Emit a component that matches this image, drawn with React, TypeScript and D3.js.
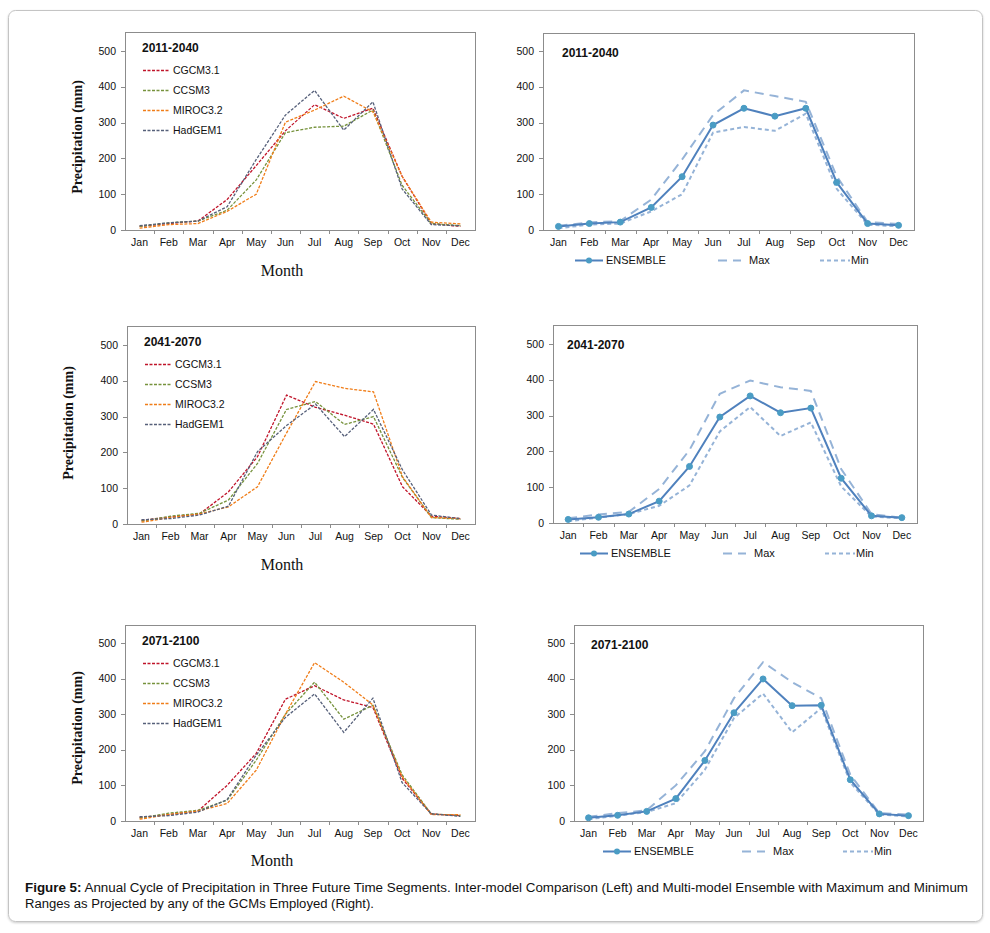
import React from 'react';
import * as d3 from 'd3';

const months = ['Jan', 'Feb', 'Mar', 'Apr', 'May', 'Jun', 'Jul', 'Aug', 'Sep', 'Oct', 'Nov', 'Dec'];
const modelNames = ['CGCM3.1', 'CCSM3', 'MIROC3.2', 'HadGEM1'];
const periods = ['2011-2040', '2041-2070', '2071-2100'];
const yTickValues = [0, 100, 200, 300, 400, 500];

// 2011-2040
const cgcm2011 = [10, 18, 25, 85, 180, 277, 350, 312, 340, 150, 18, 10];
const ccsm2011 = [10, 20, 25, 55, 140, 272, 287, 290, 335, 125, 18, 12];
const miroc2011 = [5, 15, 18, 52, 100, 301, 335, 374, 330, 150, 22, 17];
const hadgem2011 = [12, 20, 25, 65, 197, 321, 390, 279, 358, 115, 15, 12];
const ens2011 = [10, 18, 22, 63, 149, 293, 340, 318, 340, 133, 18, 13];
const max2011 = [12, 21, 25, 85, 197, 321, 390, 374, 358, 150, 22, 17];
const min2011 = [5, 15, 18, 52, 100, 272, 288, 277, 325, 115, 15, 10];

// 2041-2070
const cgcm2041 = [10, 20, 28, 90, 188, 360, 326, 304, 279, 104, 22, 15];
const ccsm2041 = [8, 22, 30, 67, 169, 320, 342, 278, 300, 130, 18, 13];
const miroc2041 = [5, 18, 28, 48, 104, 254, 398, 379, 369, 132, 18, 15];
const hadgem2041 = [12, 15, 25, 50, 202, 275, 335, 244, 320, 151, 25, 15];
const ens2041 = [10, 16, 25, 61, 158, 296, 355, 308, 321, 125, 20, 15];
const max2041 = [13, 24, 31, 95, 204, 361, 398, 379, 369, 151, 25, 15];
const min2041 = [5, 15, 25, 48, 105, 256, 324, 243, 281, 102, 18, 13];

// 2071-2100
const cgcm2071 = [10, 18, 28, 100, 190, 342, 380, 340, 319, 120, 20, 15];
const ccsm2071 = [8, 22, 30, 58, 171, 300, 390, 286, 325, 130, 20, 15];
const miroc2071 = [5, 18, 28, 49, 143, 300, 445, 390, 326, 125, 18, 18];
const hadgem2071 = [12, 15, 25, 60, 185, 291, 357, 249, 345, 108, 20, 13];
const ens2071 = [9, 16, 27, 63, 170, 304, 399, 324, 325, 116, 20, 15];
const max2071 = [12, 22, 30, 100, 196, 345, 446, 390, 345, 130, 22, 18];
const min2071 = [5, 15, 25, 50, 144, 289, 358, 249, 317, 108, 18, 13];

const modelColors = ['#c0142a', '#76923c', '#f07d18', '#56607a'];
const ensColor = '#4f81bd';
const markerColor = '#4a9cc4';
const rangeColor = '#95b3d7';
const SANS = '"Liberation Sans", Arial, sans-serif';
const SERIF = '"Liberation Serif", "Times New Roman", serif';

const modelSets = [
  [cgcm2011, ccsm2011, miroc2011, hadgem2011],
  [cgcm2041, ccsm2041, miroc2041, hadgem2041],
  [cgcm2071, ccsm2071, miroc2071, hadgem2071],
];
const ensSets = [
  { ens: ens2011, max: max2011, min: min2011 },
  { ens: ens2041, max: max2041, min: min2041 },
  { ens: ens2071, max: max2071, min: min2071 },
];

// plot-area geometry for each panel
const leftLayout = [
  { l: 125, r: 475, top: 32, zero: 230, y500: 51, monthX: 282, monthY: 276, precipX: 77, precipY: 137 },
  { l: 127, r: 475, top: 326, zero: 524, y500: 345, monthX: 282, monthY: 570, precipX: 68, precipY: 423 },
  { l: 125, r: 475, top: 625, zero: 821, y500: 643, monthX: 272, monthY: 866, precipX: 77, precipY: 728 },
];
const rightLayout = [
  { l: 543, r: 914, top: 33, zero: 230, y500: 51, titleX: 562, legX: [575, 718, 820] },
  { l: 553, r: 917, top: 325, zero: 523, y500: 344, titleX: 567, legX: [580, 723, 825] },
  { l: 574, r: 923, top: 625, zero: 821, y500: 643, titleX: 591, legX: [603, 742, 843] },
];

type Geo = { l: number; r: number; top: number; zero: number; y500: number };

function Frame({ g, x, y }: { g: Geo; x: d3.ScaleBand<string>; y: d3.ScaleLinear<number, number> }) {
  const bw = x.bandwidth();
  return (
    <g>
      <rect x={g.l + 0.5} y={g.top + 0.5} width={g.r - g.l} height={g.zero - g.top} fill="none" stroke="#8c8c8c" strokeWidth={1} />
      {yTickValues.map((t) => (
        <g key={t}>
          <line x1={g.l - 4} x2={g.l} y1={Math.round(y(t)) + 0.5} y2={Math.round(y(t)) + 0.5} stroke="#8c8c8c" />
          <text x={g.l - 9} y={y(t)} dy="0.35em" textAnchor="end" fontFamily={SANS} fontSize={10.5} fill="#111">
            {t}
          </text>
        </g>
      ))}
      {months.map((m, i) => (
        <g key={m}>
          {i > 0 && (
            <line x1={Math.round(x(m)!) + 0.5} x2={Math.round(x(m)!) + 0.5} y1={g.zero} y2={g.zero + 4} stroke="#8c8c8c" />
          )}
          <text x={x(m)! + bw / 2} y={g.zero + 16} textAnchor="middle" fontFamily={SANS} fontSize={10.5} fill="#111">
            {m}
          </text>
        </g>
      ))}
    </g>
  );
}

function ModelPanel({ idx }: { idx: number }) {
  const g = leftLayout[idx];
  const x = d3.scaleBand<string>().domain(months).range([g.l, g.r]);
  const y = d3.scaleLinear().domain([0, 500]).range([g.zero, g.y500]);
  const line = d3
    .line<number>()
    .x((_, i) => x(months[i])! + x.bandwidth() / 2)
    .y((d) => y(d));
  return (
    <g>
      <Frame g={g} x={x} y={y} />
      {modelSets[idx].map((s, k) => (
        <path key={k} d={line(s)!} fill="none" stroke={modelColors[k]} strokeWidth={1.3} strokeDasharray="3,1.5" />
      ))}
      <text x={g.l + 17} y={g.top + 15.5} dy="0.35em" fontFamily={SANS} fontWeight="bold" fontSize={12} fill="#111">
        {periods[idx]}
      </text>
      {modelNames.map((name, k) => {
        const ly = g.top + 38.5 + 20 * k;
        return (
          <g key={name}>
            <line x1={g.l + 18} x2={g.l + 45} y1={ly} y2={ly} stroke={modelColors[k]} strokeWidth={1.3} strokeDasharray="3,1.5" />
            <text x={g.l + 48} y={ly} dy="0.35em" fontFamily={SANS} fontSize={10.5} fill="#111">
              {name}
            </text>
          </g>
        );
      })}
      <text x={g.monthX} y={g.monthY} textAnchor="middle" fontFamily={SERIF} fontSize={16} fill="#111">
        Month
      </text>
      <text
        transform={`translate(${g.precipX},${g.precipY}) rotate(-90)`}
        textAnchor="middle"
        dy="0.35em"
        fontFamily={SERIF}
        fontWeight="bold"
        fontSize={14}
        fill="#111"
      >
        Precipitation (mm)
      </text>
    </g>
  );
}

function EnsemblePanel({ idx }: { idx: number }) {
  const g = rightLayout[idx];
  const set = ensSets[idx];
  const x = d3.scaleBand<string>().domain(months).range([g.l, g.r]);
  const y = d3.scaleLinear().domain([0, 500]).range([g.zero, g.y500]);
  const cx = (i: number) => x(months[i])! + x.bandwidth() / 2;
  const line = d3
    .line<number>()
    .x((_, i) => cx(i))
    .y((d) => y(d));
  const ly = g.zero + 30.5;
  const [e0, m0, n0] = g.legX;
  return (
    <g>
      <Frame g={g} x={x} y={y} />
      <path d={line(set.max)!} fill="none" stroke={rangeColor} strokeWidth={2} strokeDasharray="9,6" />
      <path d={line(set.min)!} fill="none" stroke={rangeColor} strokeWidth={2} strokeDasharray="4,3" />
      <path d={line(set.ens)!} fill="none" stroke={ensColor} strokeWidth={2} />
      {set.ens.map((v, i) => (
        <circle key={i} cx={cx(i)} cy={y(v)} r={3} fill={markerColor} stroke={markerColor} />
      ))}
      <text x={g.titleX} y={g.top + 20} dy="0.35em" fontFamily={SANS} fontWeight="bold" fontSize={12} fill="#111">
        {periods[idx]}
      </text>
      <line x1={e0} x2={e0 + 28} y1={ly} y2={ly} stroke={ensColor} strokeWidth={2} />
      <circle cx={e0 + 14} cy={ly} r={3} fill={markerColor} />
      <text x={e0 + 31} y={ly} dy="0.35em" fontFamily={SANS} fontSize={11} fill="#111">
        ENSEMBLE
      </text>
      <line x1={m0} x2={m0 + 23} y1={ly} y2={ly} stroke={rangeColor} strokeWidth={2} strokeDasharray="9,6" />
      <text x={m0 + 31} y={ly} dy="0.35em" fontFamily={SANS} fontSize={11} fill="#111">
        Max
      </text>
      <line x1={n0} x2={n0 + 30} y1={ly} y2={ly} stroke={rangeColor} strokeWidth={2} strokeDasharray="4,3" />
      <text x={n0 + 31} y={ly} dy="0.35em" fontFamily={SANS} fontSize={11} fill="#111">
        Min
      </text>
    </g>
  );
}

export default function App() {
  return (
    <svg
      width={990}
      height={933}
      style={{ position: 'absolute', left: 0, top: 0, background: '#fff' }}
    >
      <defs>
        <filter id="shadow" x="-2%" y="-2%" width="104%" height="104%">
          <feDropShadow dx={0} dy={1} stdDeviation={1} floodColor="#000" floodOpacity={0.2} />
        </filter>
      </defs>
      <rect x={8.5} y={10.5} width={974} height={911} rx={7} fill="#fff" stroke="#c4c4c4" filter="url(#shadow)" />
      {[0, 1, 2].map((i) => (
        <g key={i}>
          <ModelPanel idx={i} />
          <EnsemblePanel idx={i} />
        </g>
      ))}
      <text x={25} y={892} fontFamily={SANS} fontSize={12.5} fill="#111" textLength={943} lengthAdjust="spacingAndGlyphs">
        <tspan fontWeight="bold">Figure 5:</tspan> Annual Cycle of Precipitation in Three Future Time Segments. Inter-model Comparison (Left) and Multi-model Ensemble with Maximum and Minimum
      </text>
      <text x={25} y={908} fontFamily={SANS} fontSize={12.5} fill="#111" textLength={349} lengthAdjust="spacingAndGlyphs">
        Ranges as Projected by any of the GCMs Employed (Right).
      </text>
    </svg>
  );
}
